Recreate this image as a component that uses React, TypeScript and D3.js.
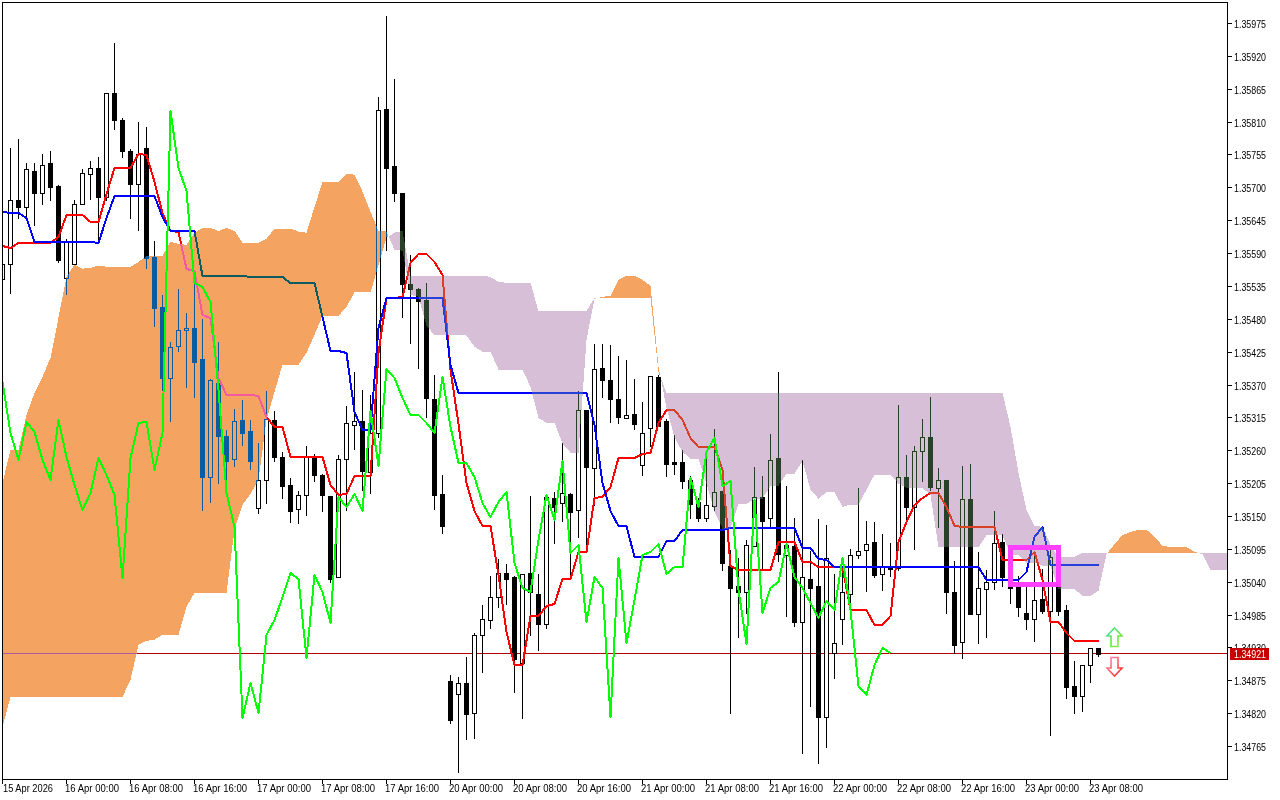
import { useEffect, useRef } from 'react'
import * as d3 from 'd3'

// prices are in points (1.35975 -> 135975)
const opens = [135547,135572,135679,135667,135728,135690,135740,135702,135548,135572,135672,135723,135733,135683,135858,135813,135761,135706,135766,135584,135500,135381,135435,135462,135465,135413,135215,135373,135284,135246,135311,135293,135164,135210,135311,135249,135202,135162,135185,135249,135219,135184,135048,135246,135303,135309,135224,135289,135831,135736,135691,135539,135530,135512,135346,135187,134874,134852,134871,134820,134950,134976,135015,135055,135047,134904,135055,135020,134970,135180,135172,135187,135160,135328,135231,135398,135378,135346,135314,135321,135236,135298,135383,135309,135241,135241,135210,135174,135147,135167,135192,135067,135033,135023,135100,135182,135147,135247,135085,135100,134973,135045,135032,134814,134921,134978,135020,135085,135093,135107,135053,135063,135063,135215,135165,135259,135282,135197,135210,135022,134939,135179,134986,135028,135040,135107,135048,135032,134988,134978,135011,134991,135032,134993,134866,134849,134901,134929]
const highs = [135592,135768,135783,135742,135743,135758,135763,135705,135615,135681,135733,135745,135753,135858,135944,135818,135766,135811,135803,135611,135522,135443,135532,135492,135540,135482,135381,135442,135296,135331,135346,135313,135274,135361,135328,135259,135215,135194,135269,135256,135222,135184,135254,135336,135393,135363,135354,135852,135989,135883,135691,135589,135533,135542,135388,135221,134886,134882,134916,134956,135003,135051,135080,135072,135051,135055,135185,135055,135187,135192,135274,135190,135361,135328,135440,135440,135438,135420,135413,135381,135343,135385,135388,135314,135287,135262,135219,135182,135247,135297,135192,135095,135082,135112,135234,135219,135289,135393,135202,135149,135246,135093,135147,135137,135055,135065,135097,135199,135143,135142,135122,135107,135338,135254,135269,135314,135351,135232,135212,135077,135236,135239,135092,135062,135160,135122,135051,135051,135038,135090,135063,135097,135077,135003,134909,134902,134929,134931]
const lows = [135525,135523,135649,135651,135637,135672,135679,135575,135522,135572,135672,135681,135609,135679,135798,135751,135649,135629,135565,135468,135360,135309,135426,135366,135349,135160,135174,135205,135210,135234,135269,135229,135155,135172,135242,135180,135140,135138,135152,135209,135159,135040,135048,135160,135262,135194,135189,135282,135595,135677,135483,135440,135398,135316,135162,135122,134804,134722,134777,134779,134889,134963,134998,135002,134856,134812,134951,134925,134963,135105,135142,135053,135115,135098,135169,135349,135308,135306,135314,135296,135219,135267,135301,135217,135221,135197,135147,135142,135142,135160,135060,134820,134948,134988,135100,135060,135133,135075,134983,134966,134753,134832,134737,134764,134879,134936,134993,135080,135025,135048,135026,135050,135060,135142,135095,135209,135194,135132,134988,134921,134912,134986,134938,134948,135028,135033,135005,134983,134961,134941,134988,134784,134985,134845,134820,134824,134872,134916]
const closes = [135572,135679,135667,135730,135691,135738,135700,135579,135609,135672,135724,135733,135683,135858,135812,135760,135705,135756,135582,135498,135381,135432,135462,135465,135408,135215,135378,135284,135242,135309,135289,135242,135210,135313,135249,135200,135159,135185,135249,135219,135185,135045,135246,135306,135309,135226,135289,135829,135733,135691,135539,135530,135510,135348,135185,135133,134809,134871,134819,134950,134978,135015,135055,135045,134911,135053,135022,134970,135182,135165,135189,135157,135328,135232,135396,135378,135346,135316,135319,135304,135289,135385,135301,135237,135237,135209,135170,135147,135169,135190,135071,135030,135022,135102,135182,135142,135244,135087,135102,134973,135048,135030,134814,135080,134938,135022,135085,135092,135103,135051,135065,135061,135215,135165,135259,135282,135199,135210,135022,134934,135179,134986,135030,135040,135105,135048,135030,134998,134978,135010,134991,135082,134991,134864,134849,134901,134929,134919]

const tenkan = [135602,135599,135607,135607,135607,135607,135607,135617,135654,135654,135654,135642,135642,135688,135733,135733,135733,135756,135754,135709,135657,135627,135626,135564,135560,135487,135482,135381,135353,135353,135353,135353,135351,135316,135299,135299,135249,135249,135249,135249,135249,135202,135185,135187,135217,135217,135217,135423,135515,135515,135517,135574,135589,135589,135575,135554,135395,135304,135205,135159,135133,135133,135051,134956,134901,134901,134983,134983,135000,135002,135045,135045,135089,135089,135180,135182,135199,135247,135247,135247,135254,135256,135306,135328,135328,135311,135281,135266,135266,135266,135227,135067,135060,135060,135060,135060,135060,135107,135107,135107,135073,135073,135065,135065,135065,135065,134992,134992,134992,134968,134968,134983,135107,135140,135169,135180,135189,135189,135165,135133,135132,135132,135132,135132,135132,135077,135077,135077,135077,135089,135043,134973,134973,134954,134941,134941,134941,134941]
const kijun = [135659,135657,135657,135649,135609,135609,135609,135609,135609,135609,135609,135609,135607,135649,135686,135686,135686,135686,135686,135686,135651,135627,135627,135627,135627,135552,135552,135552,135552,135552,135552,135550,135550,135550,135550,135550,135540,135540,135540,135540,135483,135426,135426,135423,135324,135294,135294,135465,135515,135515,135515,135515,135515,135515,135515,135515,135403,135356,135356,135356,135356,135356,135356,135356,135356,135356,135356,135356,135356,135356,135356,135356,135356,135356,135303,135205,135159,135133,135133,135082,135082,135082,135082,135108,135108,135127,135127,135127,135127,135127,135127,135130,135130,135130,135130,135130,135130,135130,135130,135130,135097,135097,135078,135077,135065,135065,135065,135065,135065,135065,135065,135065,135065,135065,135065,135065,135065,135065,135065,135065,135065,135065,135065,135043,135043,135043,135043,135043,135056,135115,135132,135068,135068,135068,135068,135068,135068,135068]
const chikou = [135375,135289,135244,135308,135291,135244,135210,135311,135249,135202,135160,135189,135247,135219,135185,135046,135247,135306,135308,135227,135289,135827,135733,135694,135540,135534,135508,135361,135189,135132,134812,134871,134820,134950,134976,135015,135055,135045,134912,135051,135023,134971,135182,135165,135187,135159,135326,135234,135396,135381,135348,135319,135319,135306,135289,135383,135299,135239,135239,135215,135172,135149,135174,135190,135072,135030,135023,135110,135185,135143,135242,135088,135102,134973,135048,135030,134814,135080,134938,135010,135085,135090,135103,135053,135065,135065,135214,135165,135257,135281,135200,135209,135026,134936,135177,134988,135030,135040,135103,135048,135030,135005,134980,135008,134993,135080,134993,134866,134851,134901,134929,134921]
const spanA = [135205,135261,135261,135319,135356,135383,135415,135482,135550,135570,135564,135565,135569,135567,135567,135567,135567,135575,135585,135585,135585,135609,135605,135604,135624,135632,135632,135627,135632,135627,135607,135607,135607,135614,135631,135631,135631,135626,135624,135667,135709,135709,135709,135723,135721,135693,135659,135627,135626,135595,135594,135520,135517,135468,135453,135453,135453,135453,135452,135433,135425,135425,135395,135395,135395,135395,135366,135314,135306,135306,135271,135256,135256,135445,135513,135517,135518,135545,135552,135552,135545,135535,135400,135331,135281,135257,135246,135246,135204,135157,135129,135129,135170,135170,135179,135179,135200,135200,135221,135221,135242,135194,135179,135190,135190,135165,135169,135169,135194,135219,135219,135219,135204,135197,135197,135197,135185,135098,135098,135098,135098,135098,135098,135118,135118,135118,135085,135085,135072,135072,135067,135067,135028,135028,135028,135016,135016,135025,135086,135103,135118,135123,135127,135127,135115,135100,135098,135098,135098,135090,135086,135060,135060,135060]
const spanB = [134797,134847,134847,134847,134847,134847,134847,134847,134847,134847,134847,134847,134847,134847,134847,134847,134876,134934,134941,134943,134951,134951,134951,134998,135021,135021,135021,135021,135021,135127,135169,135187,135210,135311,135358,135403,135403,135403,135423,135453,135485,135485,135485,135500,135524,135524,135524,135570,135616,135624,135627,135552,135552,135552,135552,135552,135552,135552,135552,135552,135552,135550,135542,135540,135540,135540,135540,135493,135493,135493,135493,135493,135493,135493,135515,135515,135515,135515,135515,135515,135515,135515,135391,135356,135356,135356,135356,135356,135356,135356,135356,135356,135356,135356,135356,135356,135356,135356,135356,135356,135356,135356,135356,135356,135356,135356,135356,135356,135356,135356,135356,135356,135356,135356,135356,135356,135356,135356,135356,135356,135356,135356,135356,135356,135356,135356,135299,135222,135160,135133,135132,135102,135080,135082,135082,135088,135088,135088,135088,135088,135088,135088,135088,135088,135088,135088,135088,135088,135088,135088,135088,135088,135088,135088]

const priceTicks = [135975,135920,135865,135810,135755,135700,135645,135590,135535,135480,135425,135370,135315,135260,135205,135150,135095,135040,134985,134930,134875,134820,134765]
const timeTicks = ['15 Apr 2026','16 Apr 00:00','16 Apr 08:00','16 Apr 16:00','17 Apr 00:00','17 Apr 08:00','17 Apr 16:00','20 Apr 00:00','20 Apr 08:00','20 Apr 16:00','21 Apr 00:00','21 Apr 08:00','21 Apr 16:00','22 Apr 00:00','22 Apr 08:00','22 Apr 16:00','23 Apr 00:00','23 Apr 08:00']
const lastPrice = 134921
const boxBars = [126, 132]
const boxPrices = [135097, 135035]

const FONT = '"Liberation Sans", Arial, sans-serif'
const fmt = (v: number) => (v / 1e5).toFixed(5)

type CloudPoint = { i: number; a: number; b: number }

// split the cloud into runs where A is above B and runs where it is below
const cloudRuns = () => {
  const runs: { up: boolean; pts: CloudPoint[] }[] = []
  let cur: { up: boolean; pts: CloudPoint[] } | null = null
  spanA.forEach((a, i) => {
    const b = spanB[i]
    const up = cur && a === b ? cur.up : a > b
    if (!cur) {
      cur = { up, pts: [] }
      runs.push(cur)
    } else if (cur.up !== up) {
      const pa = spanA[i - 1]
      const pb = spanB[i - 1]
      const t = (pb - pa) / (a - pa - (b - pb))
      const cross = { i: i - 1 + t, a: pa + (a - pa) * t, b: pa + (a - pa) * t }
      cur.pts.push(cross)
      cur = { up, pts: [cross] }
      runs.push(cur)
    }
    cur.pts.push({ i, a, b })
  })
  return runs
}

const App = () => {
  const svgRef = useRef<SVGSVGElement | null>(null)

  useEffect(() => {
    if (!svgRef.current) return
    const svg = d3.select(svgRef.current)
    svg.selectAll('*').remove()

    const left = 2
    const top = 2
    const right = 1227
    const bottom = 779

    const x = d3.scaleLinear().domain([0, 153]).range([2.5, 1226.5])
    const y = d3.scaleLinear().domain([134765, 135975]).range([746, 23])
    const py = (v: number) => Math.round(y(v)) + 0.5

    svg.append('rect').attr('width', 1280).attr('height', 800).attr('fill', 'white')

    const defs = svg.append('defs')
    defs.append('clipPath').attr('id', 'plot')
      .append('rect')
      .attr('x', left + 1).attr('y', top + 1)
      .attr('width', right - left - 1).attr('height', bottom - top - 1)

    // last price line
    svg.append('line')
      .attr('x1', left).attr('x2', right)
      .attr('y1', py(lastPrice)).attr('y2', py(lastPrice))
      .attr('stroke', '#b40000')
      .attr('shape-rendering', 'crispEdges')

    // candles
    const candles = svg.append('g')
      .attr('shape-rendering', 'crispEdges')
      .attr('clip-path', 'url(#plot)')
    opens.forEach((o, i) => {
      const c = closes[i]
      const cx = x(i)
      candles.append('line')
        .attr('x1', cx).attr('x2', cx)
        .attr('y1', py(highs[i])).attr('y2', py(lows[i]))
        .attr('stroke', 'black')
      candles.append('rect')
        .attr('x', cx - 2).attr('width', 4)
        .attr('y', py(Math.max(o, c)))
        .attr('height', Math.max(1, py(Math.min(o, c)) - py(Math.max(o, c))))
        .attr('fill', c >= o ? 'white' : 'black')
        .attr('stroke', 'black')
    })

    const line = d3.line<number>().x((_, i) => x(i)).y(d => Math.round(y(d)))
    const addLine = (values: number[], color: string) =>
      svg.append('path')
        .attr('d', line(values))
        .attr('fill', 'none')
        .attr('stroke', color)
        .attr('stroke-width', 2)
        .attr('stroke-linejoin', 'round')
        .attr('shape-rendering', 'crispEdges')
        .attr('clip-path', 'url(#plot)')

    addLine(tenkan, '#ff0000')
    addLine(kijun, '#0000ff')

    // the terminal XORs the cloud over what is already drawn, difference with the inverted colour gives the same
    const area = d3.area<CloudPoint>().x(d => x(d.i)).y0(d => y(d.a)).y1(d => y(d.b))
    cloudRuns().forEach(run => {
      svg.append('path')
        .attr('d', area(run.pts))
        .attr('fill', run.up ? '#0b5b9f' : '#274027')
        .attr('shape-rendering', 'crispEdges')
        .attr('clip-path', 'url(#plot)')
        .style('mix-blend-mode', 'difference')
    })

    addLine(chikou, '#00ff00')

    // selection box
    svg.append('rect')
      .attr('x', x(boxBars[0])).attr('y', y(boxPrices[0]))
      .attr('width', x(boxBars[1]) - x(boxBars[0]))
      .attr('height', y(boxPrices[1]) - y(boxPrices[0]))
      .attr('fill', 'none')
      .attr('stroke', '#ff40ff')
      .attr('stroke-width', 5)
      .attr('shape-rendering', 'crispEdges')

    // buy / sell arrows
    const grad = (id: string, stops: string[]) => {
      const g = defs.append('linearGradient').attr('id', id).attr('x1', 0).attr('x2', 1).attr('y1', 0).attr('y2', 1)
      stops.forEach((s, i) => g.append('stop').attr('offset', i / (stops.length - 1)).attr('stop-color', s))
    }
    grad('arrowUp', ['#40e0c0', '#60e840', '#a0e060'])
    grad('arrowDown', ['#ff90c0', '#ff6060', '#ff2020'])
    const arrowLine = d3.line()
    svg.append('path')
      .attr('d', arrowLine([[1114.5, 628], [1122, 636], [1118, 636], [1118, 646.5], [1111, 646.5], [1111, 636], [1107, 636]]) + 'Z')
      .attr('fill', 'white').attr('stroke', 'url(#arrowUp)').attr('stroke-width', 1.6)
    svg.append('path')
      .attr('d', arrowLine([[1111, 657.5], [1118, 657.5], [1118, 668], [1122, 668], [1114.5, 676], [1107, 668], [1111, 668]]) + 'Z')
      .attr('fill', 'white').attr('stroke', 'url(#arrowDown)').attr('stroke-width', 1.6)

    // frame
    svg.append('path')
      .attr('d', `M${left + 0.5},${top + 0.5}H${right + 0.5}V${bottom + 0.5}H${left + 0.5}Z`)
      .attr('fill', 'none')
      .attr('stroke', 'black')
      .attr('shape-rendering', 'crispEdges')

    // price axis
    const priceAxis = svg.append('g').attr('font-family', FONT).attr('font-size', 11)
    priceTicks.forEach(v => {
      priceAxis.append('line')
        .attr('x1', right).attr('x2', right + 5)
        .attr('y1', py(v)).attr('y2', py(v))
        .attr('stroke', 'black')
        .attr('shape-rendering', 'crispEdges')
      priceAxis.append('text')
        .attr('x', 1234).attr('y', py(v) + 4)
        .attr('textLength', 32).attr('lengthAdjust', 'spacingAndGlyphs')
        .text(fmt(v))
    })

    // time axis
    const timeAxis = svg.append('g').attr('font-family', FONT).attr('font-size', 11)
    timeTicks.forEach((label, k) => {
      const tx = Math.floor(x(k * 8))
      timeAxis.append('line')
        .attr('x1', tx + 0.5).attr('x2', tx + 0.5)
        .attr('y1', bottom).attr('y2', bottom + 5)
        .attr('stroke', 'black')
        .attr('shape-rendering', 'crispEdges')
      timeAxis.append('text')
        .attr('x', k === 0 ? 3 : tx - 1).attr('y', 792)
        .attr('textLength', k === 0 ? 50 : 54).attr('lengthAdjust', 'spacingAndGlyphs')
        .text(label)
    })

    // last price tag
    svg.append('rect')
      .attr('x', 1230).attr('y', py(lastPrice) - 5.5)
      .attr('width', 39).attr('height', 11.5)
      .attr('fill', '#c80000')
      .attr('shape-rendering', 'crispEdges')
    svg.append('text')
      .attr('x', 1234).attr('y', py(lastPrice) + 4)
      .attr('font-family', FONT).attr('font-size', 11)
      .attr('textLength', 32).attr('lengthAdjust', 'spacingAndGlyphs')
      .attr('fill', 'white')
      .text(fmt(lastPrice))
  }, [])

  return (
    <svg
      ref={svgRef}
      width={1280}
      height={800}
      style={{ position: 'absolute', left: 0, top: 0, display: 'block' }}
    />
  )
}

export default App
